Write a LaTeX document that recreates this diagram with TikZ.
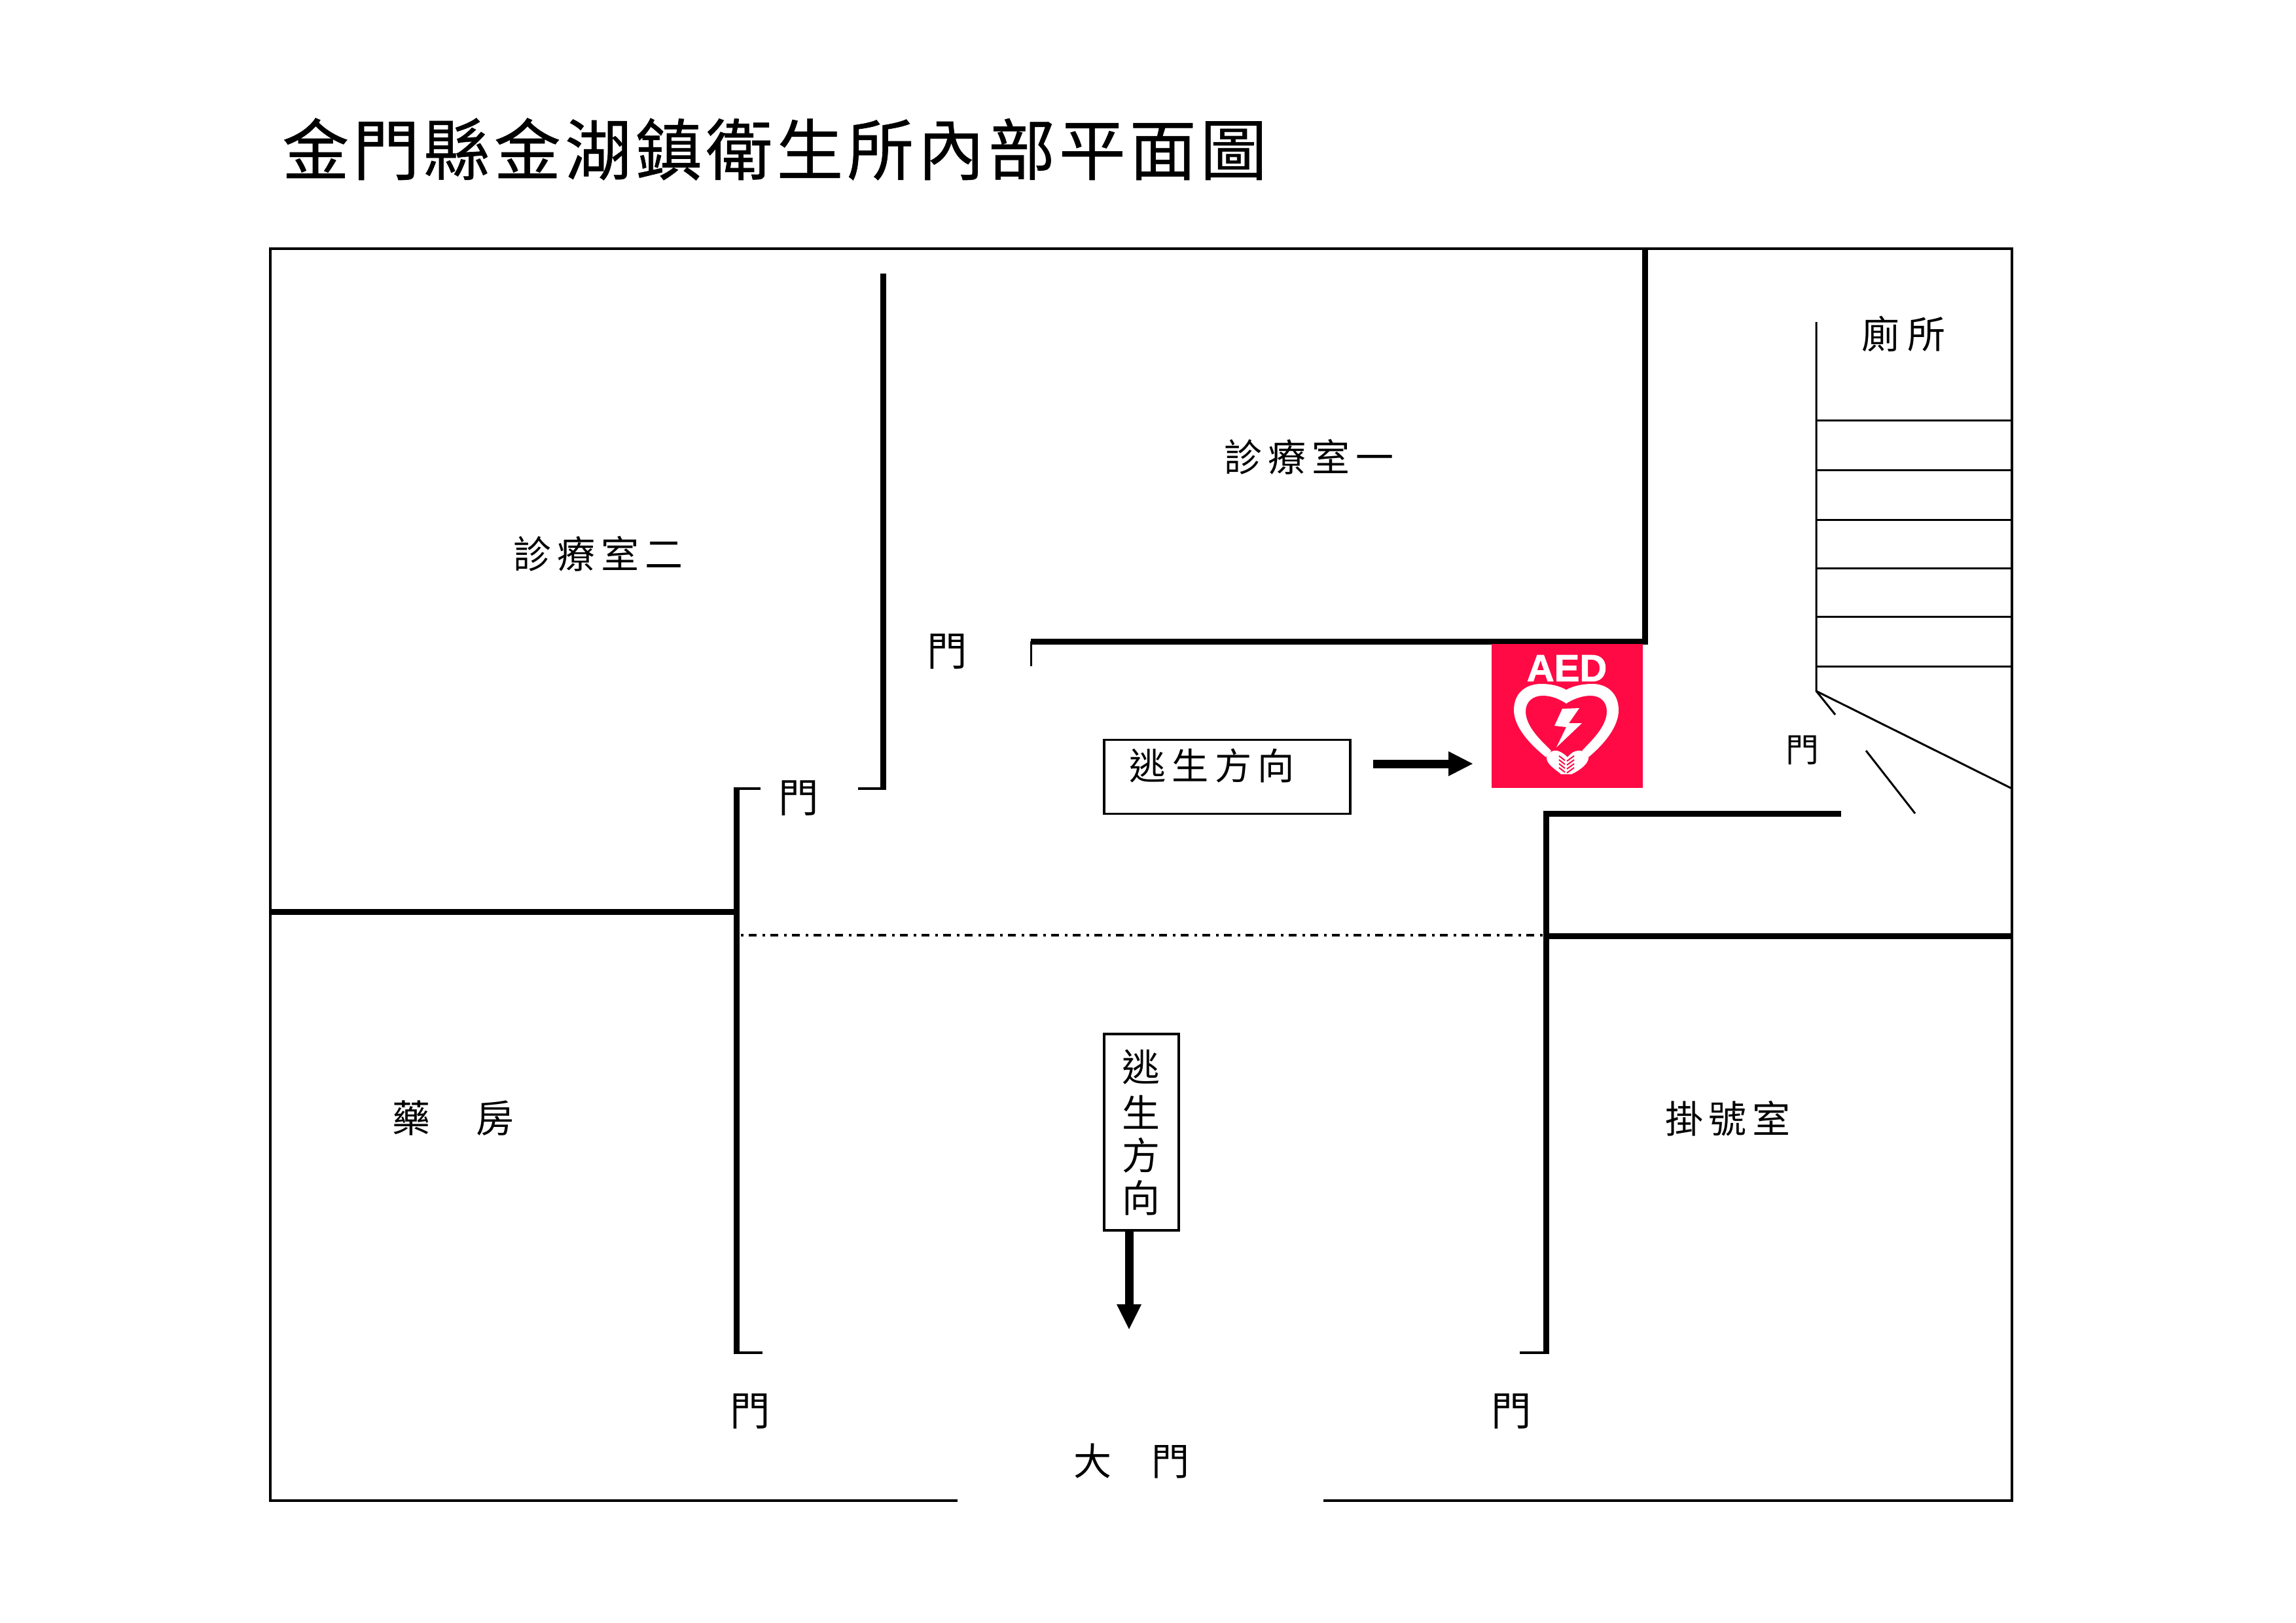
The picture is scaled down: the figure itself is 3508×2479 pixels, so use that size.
\documentclass[tikz,border=0pt]{standalone}
\usepackage{fontspec}
\newfontfamily\cjk{Noto Sans CJK TC}
\newfontfamily\cjktitle{Noto Sans CJK TC}[FakeBold=0.6]
\newfontfamily\aedfont{Liberation Sans}[BoldFeatures={FakeBold=1.5}]
\definecolor{aedred}{HTML}{FF0A45}
\tikzset{
 x=0.02cm,y=-0.02cm,
 wallthick/.style={line width=9*0.02cm,line cap=butt},
 wallmid/.style={line width=4.5*0.02cm},
 wallthin/.style={line width=3*0.02cm},
 lbl/.style={inner sep=0,font=\fontsize{33}{33}\selectfont\cjk},
 doorlbl/.style={inner sep=0,font=\fontsize{35}{35}\selectfont\cjk},
 smalllbl/.style={inner sep=0,font=\fontsize{29}{29}\selectfont\cjk},
 titlelbl/.style={inner sep=0,font=\fontsize{58}{58}\selectfont\cjktitle},
 signbox/.style={draw,line width=3.5*0.02cm,inner sep=0},
 flowarrow/.style={line width=13*0.02cm},
 fingerline/.style={aedred,line width=2*0.02cm}
}
\newcommand{\gp}{\hspace{5.2pt}}
\newcommand{\tg}{\hspace{3.4pt}}
\begin{document}
\begin{tikzpicture}
\useasboundingbox (0,0) rectangle (3508,2479);
\fill[white] (0,0) rectangle (3508,2479);
% coordinates
\coordinate (tl) at (413,380); \coordinate (tr) at (3074,380);
\coordinate (br) at (3074,2293); \coordinate (bl) at (413,2293);
\coordinate (gapl) at (1463,2293); \coordinate (gapr) at (2022,2293);
% outer wall
\draw[wallmid,line cap=square] (gapl) -- (bl) -- (tl) -- (tr) -- (br) -- (gapr);
% interior walls
\draw[wallthick] (1349,418) -- (1349,1207);
\draw[wallmid] (1353,1205) -- (1311,1205);
\draw[wallthick] (1125,1203) -- (1125,2069);
\draw[wallmid] (1121,1205) -- (1162,1205);
\draw[wallmid] (1121,2067) -- (1165,2067);
\draw[wallthick] (413,1393) -- (1125,1393);
\draw[wallthick] (2362,1239) -- (2362,2069);
\draw[wallmid] (2366,2067) -- (2322,2067);
\draw[wallthick] (2358,1243) -- (2813,1243);
\draw[wallthick] (2362,1430) -- (3074,1430);
\draw[wallthick] (2513,380) -- (2513,985);
\draw[wallthick] (1575,980) -- (2517,980);
\draw[wallthin] (1575,980) -- (1575,1018);
\draw[line width=4*0.02cm,dash pattern=on 4*0.02cm off 8*0.02cm on 12*0.02cm off 9*0.02cm] (1132,1429) -- (2357,1429);
% stairs
\draw[wallthin] (2775,492) -- (2775,1056) -- (3074,1205);
\foreach \yy in {642,718,794,868,942,1018} \draw[wallthin] (2775,\yy) -- (3074,\yy);
\draw[wallthin] (2775,1056) -- (2804,1092);
\draw[wallthin] (2851,1147) -- (2926,1243);
% signs
\node[signbox,minimum width=376*0.02cm,minimum height=113*0.02cm] (hsign) at (1875,1187) {};
\node[inner sep=0,font=\fontsize{32}{32}\selectfont\cjk,anchor=west] (hsigntext) at (1725,1170) {逃\gp 生\gp 方\gp 向};
\node[signbox,minimum width=114*0.02cm,minimum height=300*0.02cm] (vsign) at (1744,1730) {};
\node[lbl] (v1) at (1743,1630) {逃};
\node[lbl] (v2) at (1743,1700) {生};
\node[lbl] (v3) at (1743,1765) {方};
\node[lbl] (v4) at (1743,1830) {向};
\coordinate (aS) at (2098,1167); \coordinate (aE) at (2213,1167);
\coordinate (bS) at (1725,1879); \coordinate (bE) at (1725,1993);
\draw[flowarrow] (aS) -- (aE);
\fill (2213,1148) -- (2250,1167) -- (2213,1186) -- cycle;
\draw[flowarrow] (bS) -- (bE);
\fill (1706,1993) -- (1725,2031) -- (1744,1993) -- cycle;
% labels
\node[titlelbl,anchor=west] (title) at (431,228) {金\tg 門\tg 縣\tg 金\tg 湖\tg 鎮\tg 衛\tg 生\tg 所\tg 內\tg 部\tg 平\tg 面\tg 圖};
\node[lbl,anchor=west] (r2) at (784,846) {診\gp 療\gp 室\gp 二};
\node[lbl,anchor=west] (r1) at (1870,698) {診\gp 療\gp 室\gp 一};
\node[lbl,anchor=west] (ph) at (599,1709) {藥\hspace{40pt}房};
\node[lbl,anchor=west] (reg) at (2544,1709) {掛\hspace{4.8pt}號\hspace{4.8pt}室};
\node[lbl,anchor=west] (wc) at (2844,510) {廁\hspace{7pt}所};
\node[doorlbl] (d1) at (1447,996) {門};
\node[doorlbl] (d2) at (1220,1220) {門};
\node[smalllbl] (d3) at (2754,1146) {門};
\node[doorlbl] (d4) at (1146,2157) {門};
\node[doorlbl] (d5) at (2309,2157) {門};
\node[lbl,anchor=west] (main) at (1640,2232) {大\hspace{35pt}門};
% AED sign
\fill[aedred] (2279,984) rectangle (2510,1204);
\node[text=white,inner sep=0,font=\fontsize{33}{33}\selectfont\aedfont\bfseries] (aedtext) at (2394,1021) {AED};
\fill[white,even odd rule]
  (2393,1054) .. controls (2382,1048) and (2370,1045) .. (2355,1045)
  .. controls (2330,1045) and (2313,1060) .. (2313,1085)
  .. controls (2313,1110) and (2336,1136) .. (2362,1157)
  -- (2370,1147)
  .. controls (2350,1128) and (2331,1108) .. (2331,1087)
  .. controls (2331,1072) and (2342,1063) .. (2357,1063)
  .. controls (2372,1063) and (2384,1069) .. (2393,1075)
  .. controls (2402,1069) and (2416,1063) .. (2430,1063)
  .. controls (2445,1063) and (2455,1072) .. (2455,1087)
  .. controls (2455,1108) and (2436,1128) .. (2417,1147)
  -- (2427,1157)
  .. controls (2452,1136) and (2473,1110) .. (2473,1085)
  .. controls (2473,1060) and (2456,1045) .. (2433,1045)
  .. controls (2418,1045) and (2404,1048) .. (2393,1054) -- cycle;
\fill[white] (2387,1083) -- (2413,1082) -- (2397,1105) -- (2417,1105) -- (2378,1142) -- (2393,1111) -- (2375,1109) -- cycle;
\fill[white] (2363,1158)
  .. controls (2364,1150) and (2372,1146) .. (2379,1147)
  .. controls (2386,1149) and (2391,1153) .. (2395,1157)
  .. controls (2400,1151) and (2405,1147) .. (2412,1147)
  .. controls (2420,1147) and (2427,1152) .. (2427,1158)
  .. controls (2427,1166) and (2416,1176) .. (2401,1183)
  -- (2385,1183)
  .. controls (2376,1175) and (2363,1168) .. (2363,1158) -- cycle;
\foreach \dd in {0,6,12,18}{
  \draw[fingerline] (2382,1155+\dd) -- (2391,1162+\dd);
  \draw[fingerline] (2405,1155+\dd) -- (2394,1163+\dd);
}
\end{tikzpicture}
\end{document}
